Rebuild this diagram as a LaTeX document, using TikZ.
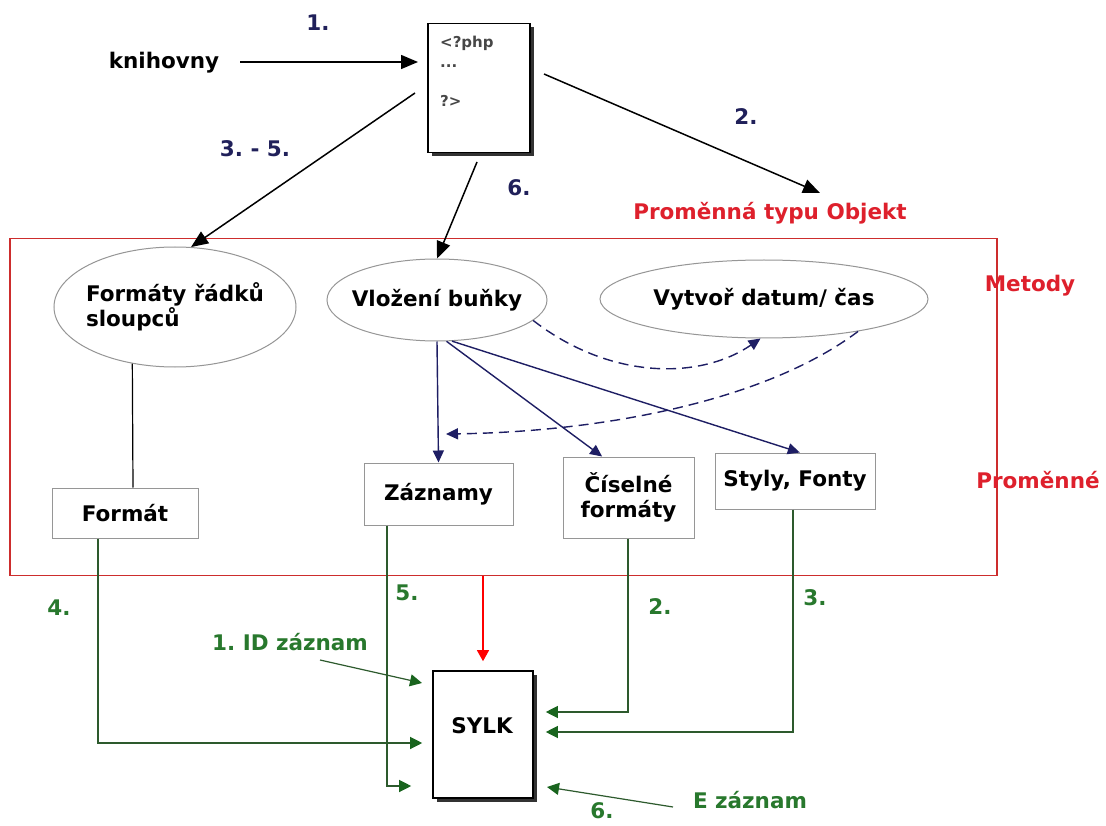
\documentclass[tikz,border=0pt]{standalone}
\usepackage{fontspec}
\setmainfont{DejaVu Sans}
\usetikzlibrary{arrows.meta,shapes.geometric,calc,shadows}
\definecolor{navy}{RGB}{32,32,90}
\definecolor{navyln}{RGB}{30,30,100}
\definecolor{rtext}{RGB}{222,32,44}
\definecolor{rframe}{RGB}{205,45,45}
\definecolor{gtext}{RGB}{40,120,45}
\definecolor{gline}{RGB}{45,90,45}
\definecolor{ghead}{RGB}{25,100,30}
\definecolor{gborder}{RGB}{150,150,150}
\frenchspacing
\begin{document}
\begin{tikzpicture}[x=1pt,y=-1pt,
  every node/.style={inner sep=0pt, font=\bfseries\fontsize{21.5}{25}\selectfont},
  lbl/.style={text=black},
  nlbl/.style={text=navy},
  rlbl/.style={text=rtext},
  glbl/.style={text=gtext},
  code/.style={font=\bfseries\fontsize{15}{17}\selectfont, text=black!72, anchor=west},
  ell/.style={ellipse, draw=gborder, line width=1pt, fill=white},
  vbox/.style={rectangle, draw=gborder, line width=1pt, fill=white},
  doc/.style={rectangle, draw=black, line width=1.6pt, fill=white,
    drop shadow={shadow xshift=3.5pt, shadow yshift=-3.5pt, opacity=1, fill=black!80}},
  blk/.style={draw=black, line width=1.5pt, -{Triangle[length=17pt,width=14pt]}},
  nav/.style={draw=navyln, line width=1.4pt, -{Triangle[length=12pt,width=11pt]}},
  dsh/.style={nav, dash pattern=on 10pt off 6pt},
  grn/.style={draw=gline, line width=1.2pt, -{Triangle[length=12pt,width=12pt,color=ghead]}},
  red arrow/.style={draw=red, line width=1.2pt, -{Triangle[length=11pt,width=12pt]}}
]
\useasboundingbox (0,0) rectangle (1106,826);
\fill[white] (0,0) rectangle (1106,826);

% frame
\node[draw=rframe, line width=1.2pt, minimum width=987pt, minimum height=337pt] (frame) at (503.5,407) {};

% top part
\node[lbl] (knih) at (164,63) {knihovny};
\node[nlbl] (n1) at (318,23) {1.};
\node[doc, minimum width=102pt, minimum height=129pt] (php) at (479,88) {};
\node[code] (c1) at (440,43) {<?php};
\node[code] (c2) at (440,66) {...};
\node[code] (c3) at (440,101) {?>};
\node[nlbl] (n2) at (746,117) {2.};
\node[rlbl] (obj) at (770,213) {Proměnná typu Objekt};
\node[nlbl] (n35) at (255,149) {3. - 5.};
\node[nlbl] (n6) at (519,188) {6.};
\node[rlbl] (met) at (1030,286) {Metody};
\node[rlbl] (prom) at (1038,480) {Proměnné};

% methods
\node[ell, minimum width=242pt, minimum height=120pt] (fmt) at (175,307) {};
\node[lbl, align=left] (fmtt) at (fmt) {Formáty řádků\\sloupců};
\node[ell, minimum width=220pt, minimum height=82pt] (vl) at (437,300) {};
\node[lbl] (vlt) at (vl) {Vložení buňky};
\node[ell, minimum width=328pt, minimum height=78pt] (vy) at (764,299) {};
\node[lbl] (vyt) at (vy) {Vytvoř datum/ čas};

% variables
\node[vbox, minimum width=146pt, minimum height=50pt] (fbox) at (125,513) {Formát};
\node[vbox, minimum width=149pt, minimum height=62pt] (zaz) at (438.5,494) {Záznamy};
\node[vbox, minimum width=131pt, minimum height=81pt, align=center] (cis) at (628.5,497.5) {Číselné\\formáty};
\node[vbox, minimum width=160pt, minimum height=56pt] (sty) at (795,481) {Styly, Fonty};

% SYLK
\node[doc, minimum width=100pt, minimum height=127pt] (sylk) at (483,734.5) {};
\node[lbl] (sylkt) at (482,726) {SYLK};

% green labels
\node[glbl] (g4) at (59,608) {4.};
\node[glbl] (g5) at (407,593) {5.};
\node[glbl] (g2) at (660,607) {2.};
\node[glbl] (g3) at (815,598) {3.};
\node[glbl] (gid) at (290,642) {1. ID záznam};
\node[glbl] (ge) at (750,800) {E záznam};
\node[glbl] (g6) at (602,811) {6.};

% coordinates
\coordinate (pA) at (240,62);
\coordinate (pB) at (418,62);
\coordinate (s2) at (544,74);
\coordinate (e2) at (820,193);
\coordinate (s35) at (415,93);
\coordinate (s6) at (477,162);
\coordinate (dz) at (446,434);
\coordinate (xF) at (98,0);
\coordinate (xFm) at (133,0);
\coordinate (yF) at (0,743);
\coordinate (yZ) at (0,786);
\coordinate (yC) at (0,712);
\coordinate (yS) at (0,732);
\coordinate (idS) at (320,660);
\coordinate (idE) at (422,683);
\coordinate (eS) at (673,807);
\coordinate (eE) at (547,787);

% top connectors
\draw[blk] (pA) -- (pB);
\draw[blk] (s2) -- (e2);
\draw[blk] (s35) -- (fmt.75);
\draw[blk] (s6) -- (vl.north);

% method -> variables
\draw[black, line width=1.2pt] (fmt.233) -- (fbox.north -| xFm);
\draw[nav] (vl.south) -- (zaz.north);
\draw[nav] (vl.283) -- ($(cis.north west)!0.3!(cis.north east)$);
\draw[nav] (vl.290) -- ($(sty.north west)!0.53!(sty.north east)$);
\draw[dsh] (vl.-12) .. controls (610,380) and (700,380) .. (vy.265);
\draw[dsh] (vy.-19) .. controls (760,405) and (590,432) .. (dz);

% to SYLK
\draw[red arrow] (frame.south -| sylk.north) -- ([yshift=9pt]sylk.north);
\draw[grn] (idS) -- (idE);
\draw[grn, shorten >=10pt] (fbox.south -| xF) |- (sylk.west |- yF);
\draw[grn, shorten >=21pt] (zaz.south -| 387,0) |- (sylk.west |- yZ);
\draw[grn, shorten >=12pt] (cis.south -| 628,0) |- (sylk.east |- yC);
\draw[grn, shorten >=12pt] (sty.south -| 793,0) |- (sylk.east |- yS);
\draw[grn] (eS) -- (eE);
\end{tikzpicture}
\end{document}
